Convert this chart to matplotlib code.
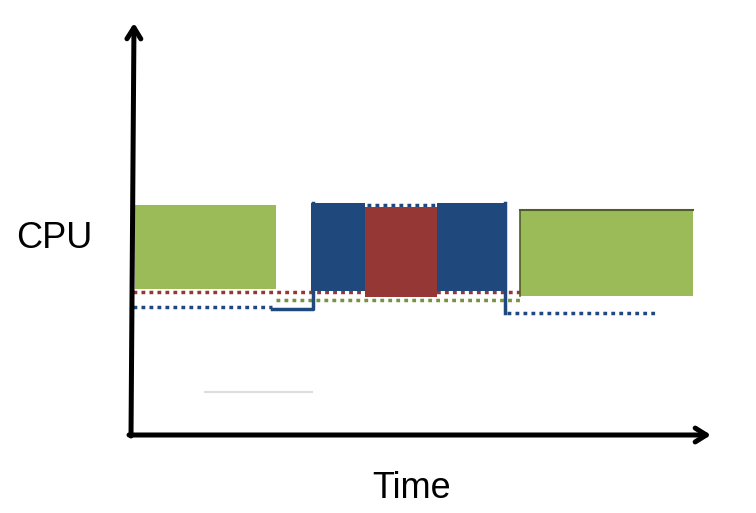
import matplotlib
matplotlib.use('Agg')
import matplotlib.pyplot as plt
from matplotlib.patches import Rectangle

# task blocks on the timeline: (start, end, cpu_top, cpu_bottom)
block_names = ['green_a', 'blue_a', 'red', 'blue_b', 'green_b']
block_start = [135, 311, 365, 437, 520]
block_end = [276, 365, 437, 506, 693]
block_top = [205, 203, 207, 203, 210]
block_bottom = [289, 291, 297, 291, 296]
block_colors = ['#9bbb59', '#1f497d', '#953735', '#1f497d', '#9bbb59']

# dotted priority levels
red_level_x = [133, 520]
red_level_y = [292, 292]
green_level_x = [276, 520]
green_level_y = [300, 300]
blue_level1_x = [133, 272]
blue_level1_y = [307, 307]
blue_level2_x = [367, 437]
blue_level2_y = [205, 205]
blue_level3_x = [507, 655]
blue_level3_y = [313, 313]

# solid blue trace
blue_trace_x = [272, 313, 313]
blue_trace_y = [309, 309, 203]
blue_drop_x = [505, 505]
blue_drop_y = [203, 313]

fig = plt.figure(figsize=(7.56, 5.13), dpi=100)
ax = fig.add_axes([0, 0, 1, 1])
ax.set_xlim(0, 756)
ax.set_ylim(513, 0)
ax.axis('off')

for s, e, t, b, c in zip(block_start, block_end, block_top, block_bottom, block_colors):
  ax.add_patch(Rectangle((s, t), e - s, b - t, facecolor=c, edgecolor='none', zorder=2))

# dark top edge on the last green block
ax.plot([block_start[4], block_end[4]], [block_top[4], block_top[4]], color='#4f5e2a', lw=1.5, zorder=3)
ax.plot([block_start[4], block_start[4]], [block_top[4], block_bottom[4]], color='#4f5e2a', lw=1.2, zorder=3)

dot = dict(lw=2.5, linestyle=(0, (1.1, 1.2)), solid_capstyle='butt', dash_capstyle='butt')
ax.plot(red_level_x, red_level_y, color='#953735', zorder=1, **dot)
ax.plot(green_level_x, green_level_y, color='#77933c', zorder=1, **dot)
ax.plot(blue_level1_x, blue_level1_y, color='#1f497d', zorder=1, **dot)
ax.plot(blue_level2_x, blue_level2_y, color='#1f497d', zorder=1, **dot)
ax.plot(blue_level3_x, blue_level3_y, color='#1f497d', zorder=1, **dot)

ax.plot(blue_trace_x, blue_trace_y, color='#1f497d', lw=2.5, zorder=3)
ax.plot(blue_drop_x, blue_drop_y, color='#1f497d', lw=2.5, zorder=3)

# faint gray line
ax.plot([205, 312], [392, 392], color='#dddddd', lw=1.5, zorder=1)

# axes arrows
arrow = dict(arrowstyle='->,head_length=0.8,head_width=0.5', lw=3.6, color='black',
             shrinkA=0, shrinkB=0)
ax.annotate('', xy=(134, 23), xytext=(131, 436), arrowprops=arrow)
ax.annotate('', xy=(711, 435), xytext=(129, 435), arrowprops=arrow)

ax.text(54, 239, 'CPU', fontsize=26, family='Liberation Sans', ha='center', va='center')
ax.text(412, 488, 'Time', fontsize=26, family='Liberation Sans', ha='center', va='center')

plt.savefig('out.png', dpi=100)
